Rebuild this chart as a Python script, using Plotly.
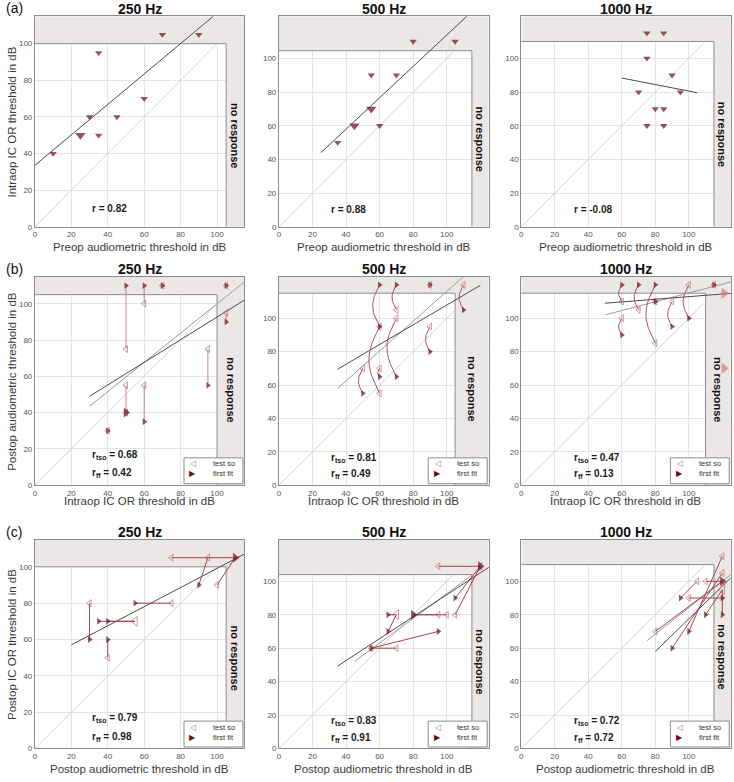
import math
from collections import Counter
import plotly.graph_objects as go

# ------------------------------------------------------------------ data
freq_titles = ["250 Hz", "500 Hz", "1000 Hz"]
row_labels = ["(a)", "(b)", "(c)"]
x_titles = ["Preop audiometric threshold in dB",
            "Intraop IC OR threshold in dB",
            "Postop audiometric threshold in dB"]
y_titles = ["Intraop IC OR threshold in dB",
            "Postop audiometric threshold in dB",
            "Postop IC OR threshold in dB"]
tick_vals = [0, 20, 40, 60, 80, 100]
axis_max = [115, 125, 125]

# "no response" limits (x, y) per panel row
a_band_x = [105, 115, 115]
a_band_y = [100, 104.5, 110]
b_band_x = [100, 105, 110]
b_band_y = [105, 115, 115]
c_band_x = [105, 115, 115]
c_band_y = [100, 104, 110]

# (a) preop audiometric vs intraop IC OR threshold
a250_x = [10, 25, 25, 30, 35, 35, 45, 60, 70, 90]
a250_y = [40, 50, 50, 60, 95, 50, 60, 70, 105, 105]
a500_x = [35, 45, 45, 55, 55, 55, 60, 70, 80, 105]
a500_y = [50, 60, 60, 70, 70, 90, 60, 90, 110, 110]
a1000_x = [75, 85, 75, 90, 70, 95, 80, 85, 75, 85]
a1000_y = [115, 115, 100, 90, 80, 80, 70, 70, 60, 60]
a250_fit_x, a250_fit_y = [0, 98], [33.6, 115]
a500_fit_x, a500_fit_y = [25, 112], [44, 125]
a1000_fit_x, a1000_fit_y = [60, 105], [88.3, 79.6]
a_r = ["0.82", "0.88", "-0.08"]

# (b) intraop IC OR threshold vs postop audiometric (test so -> first fit)
b250_x = [50, 60, 50, 60, 95, 105, 40, 70, 105, 50]
b250_tso = [75, 100, 55, 55, 75, 95, 30, 110, 110, 40]
b250_ff = [110, 110, 40, 35, 55, 90, 30, 110, 110, 40]
b500_x = [60, 60, 70, 70, 50, 60, 90, 110, 90]
b500_tso = [95, 55, 105, 100, 70, 70, 95, 120, 120]
b500_ff = [120, 95, 120, 65, 55, 65, 80, 105, 120]
b1000_x = [60, 60, 70, 80, 80, 90, 100, 115]
b1000_tso = [110, 100, 105, 85, 110, 110, 120, 120]
b1000_ff = [120, 90, 120, 120, 110, 95, 100, 120]
b1000_nr_x = [121, 121]
b1000_nr_y = [115, 70]
b250_fitA_x, b250_fitA_y = [30, 115], [49, 102]
b250_fitB_x, b250_fitB_y = [30, 115], [43.5, 112]
b500_fitA_x, b500_fitA_y = [35, 120], [69.5, 119.7]
b500_fitB_x, b500_fitB_y = [35, 110], [58, 125]
b1000_fitA_x, b1000_fitA_y = [50, 126], [109, 115]
b1000_fitB_x, b1000_fitB_y = [50, 126], [102, 122]
b_rtso = ["0.68", "0.81", "0.47"]
b_rff = ["0.42", "0.49", "0.13"]

# (c) postop audiometric vs postop IC OR threshold (test so -> first fit)
c250_tso_x = [75, 95, 100, 75, 55, 55, 30, 40]
c250_tso_y = [105, 105, 90, 80, 70, 70, 80, 50]
c250_ff_x = [110, 90, 110, 55, 35, 40, 30, 40]
c250_ff_y = [105, 90, 105, 80, 70, 70, 60, 60]
c500_tso_x = [95, 120, 105, 95, 100, 70, 70, 55, 70]
c500_tso_y = [109, 109, 80, 80, 80, 80, 80, 60, 60]
c500_ff_x = [120, 105, 120, 80, 80, 65, 65, 95, 55]
c500_ff_y = [109, 90, 109, 80, 80, 80, 70, 70, 60]
c1000_tso_x = [105, 110, 100, 80, 120, 120, 120, 120]
c1000_tso_y = [100, 100, 90, 70, 115, 105, 95, 95]
c1000_ff_x = [95, 120, 120, 120, 100, 90, 110, 120]
c1000_ff_y = [90, 100, 90, 100, 70, 60, 80, 80]
c250_fitA_x, c250_fitA_y = [20, 115], [57, 107]
c500_fitA_x, c500_fitA_y = [35, 126], [49.3, 109]
c500_fitB_x, c500_fitB_y = [45, 115.5], [52, 104]
c1000_fitA_x, c1000_fitA_y = [80, 125], [58, 102]
c1000_fitB_x, c1000_fitB_y = [75, 125], [64.5, 104]
c_rtso = ["0.79", "0.83", "0.72"]
c_rff = ["0.98", "0.91", "0.72"]

# ------------------------------------------------------------------ style
W, H = 734, 782
COLS = [(33, 243), (277.7, 488), (520.7, 730.7)]
ROWS = [(16.3, 228.3), (278.3, 488.3), (543, 753.3)]
FONT = "Liberation Sans, Arial, Helvetica, sans-serif"
DARK = "#6c0a1c"
OPEN = "#c46872"
SALMON = "#d9787f"
BAND = "#ebe7e7"
EDGE = "#8c8c8c"
FIT_DARK = "#4a4a4a"
FIT_LIGHT = "#9a9a9a"
IDENT = "#d2d2d2"

fig = go.Figure()
shapes, annos = [], []


def axn(n):
    return ("x" if n == 1 else f"x{n}", "y" if n == 1 else f"y{n}")


def add_line(n, xs, ys, color, width=1):
    xa, ya = axn(n)
    fig.add_trace(go.Scatter(x=xs, y=ys, mode="lines", xaxis=xa, yaxis=ya,
                             line=dict(color=color, width=width),
                             showlegend=False, hoverinfo="skip"))


def add_markers(n, xs, ys, symbol, color, base, open_=False):
    xa, ya = axn(n)
    cnt = Counter(zip(xs, ys))
    pts = list(cnt.keys())
    fig.add_trace(go.Scatter(
        x=[p[0] for p in pts], y=[p[1] for p in pts], mode="markers",
        xaxis=xa, yaxis=ya, cliponaxis=False,
        marker=dict(symbol=symbol, color=color,
                    size=[base + 2.5 * (cnt[p] - 1) for p in pts],
                    line=dict(width=1 if open_ else 0, color=color)),
        showlegend=False, hoverinfo="skip"))


def connectors(n, tx, ty, fx, fy, depth, color):
    xs, ys = [], []
    for a, b, c, d in zip(tx, ty, fx, fy):
        if (a, b) == (c, d):
            continue
        if depth > 0 and a == c:
            dd = depth * abs(d - b) + 0.4
            for k in range(25):
                t = k / 24
                xs.append(a - dd * math.sin(math.pi * t))
                ys.append(b + (d - b) * t)
        else:
            xs += [a, c]
            ys += [b, d]
        xs.append(None)
        ys.append(None)
    add_line(n, xs, ys, color, 1)


def frame(n, bx, by, R):
    xa, ya = axn(n)
    common = dict(xref=xa, yref=ya, layer="between")
    shapes.append(dict(type="rect", x0=0, x1=R, y0=by, y1=R, fillcolor=BAND,
                       line=dict(width=0), **common))
    shapes.append(dict(type="rect", x0=bx, x1=R, y0=0, y1=by, fillcolor=BAND,
                       line=dict(width=0), **common))
    shapes.append(dict(type="line", x0=bx, x1=bx, y0=0, y1=by,
                       line=dict(color=EDGE, width=1), **common))
    shapes.append(dict(type="line", x0=0, x1=bx, y0=by, y1=by,
                       line=dict(color=EDGE, width=1), **common))
    m = min(bx, by)
    add_line(n, [0, m], [0, m], IDENT, 1)
    annos.append(dict(x=(bx + R) / 2, y=by / 2, xref=xa, yref=ya,
                      text="<b>no response</b>", textangle=90, showarrow=False,
                      font=dict(size=11, color="#111", family=FONT)))


def legend_box(n):
    xa, ya = axn(n)
    pw = 210.0
    x0, x1 = 1 - 60.5 / pw, 1 - 1.5 / pw
    y0, y1 = 1.5 / pw, 27.5 / pw
    shapes.append(dict(type="rect", xref=f"{xa} domain", yref=f"{ya} domain",
                       x0=x0, x1=x1, y0=y0, y1=y1, fillcolor="white",
                       line=dict(color=EDGE, width=1), layer="above"))
    for i, (sym, col, lab) in enumerate([("◁", OPEN, "test so"), ("▶", DARK, "first fit")]):
        yy = y1 - (6 + 10 * i) / pw
        annos.append(dict(x=x0 + 9 / pw, y=yy, xref=f"{xa} domain", yref=f"{ya} domain",
                          text=sym, showarrow=False, xanchor="center", yanchor="middle",
                          font=dict(size=8, color=col, family="DejaVu Sans")))
        annos.append(dict(x=x0 + 27 / pw, y=yy, xref=f"{xa} domain", yref=f"{ya} domain",
                          text=lab, showarrow=False, xanchor="left", yanchor="middle",
                          font=dict(size=7.5, color="#333", family=FONT)))


def r_texts(n, lines, ys):
    xa, ya = axn(n)
    for t, y in zip(lines, ys):
        annos.append(dict(x=30, y=y, xref=xa, yref=ya, text=t, showarrow=False,
                          xanchor="left", yanchor="middle",
                          font=dict(size=10, color="#1a1a1a", family=FONT)))


# ------------------------------------------------------------------ row a
a_data = [(a250_x, a250_y, a250_fit_x, a250_fit_y),
          (a500_x, a500_y, a500_fit_x, a500_fit_y),
          (a1000_x, a1000_y, a1000_fit_x, a1000_fit_y)]
for j, (xs, ys, fx, fy) in enumerate(a_data):
    n = 1 + j
    frame(n, a_band_x[j], a_band_y[j], axis_max[j])
    add_line(n, fx, fy, FIT_DARK, 1)
    add_markers(n, xs, ys, "triangle-down", DARK, 6.5)
    r_texts(n, [f"<b>r = {a_r[j]}</b>"], [10])

# ------------------------------------------------------------------ row b
b_data = [(b250_x, b250_tso, b250_ff, (b250_fitA_x, b250_fitA_y), (b250_fitB_x, b250_fitB_y), 0.0, "#c48890"),
          (b500_x, b500_tso, b500_ff, (b500_fitA_x, b500_fitA_y), (b500_fitB_x, b500_fitB_y), 0.15, "#a9535e"),
          (b1000_x, b1000_tso, b1000_ff, (b1000_fitA_x, b1000_fitA_y), (b1000_fitB_x, b1000_fitB_y), 0.15, "#a9535e")]
for j, (xs, tso, ff, fa, fb, depth, ccol) in enumerate(b_data):
    n = 4 + j
    frame(n, b_band_x[j], b_band_y[j], axis_max[j])
    add_line(n, fb[0], fb[1], FIT_LIGHT, 1)
    add_line(n, fa[0], fa[1], FIT_DARK, 1)
    connectors(n, xs, tso, xs, ff, depth, ccol)
    add_markers(n, xs, tso, "triangle-left-open", OPEN, 6, open_=True)
    add_markers(n, xs, ff, "triangle-right", DARK, 6)
    if j == 2:
        add_markers(n, b1000_nr_x, b1000_nr_y, "triangle-right", SALMON, 10)
    r_texts(n, [f"<b>r<sub>tso</sub> = {b_rtso[j]}</b>", f"<b>r<sub>ff</sub> = {b_rff[j]}</b>"], [16.5, 6.5])
    legend_box(n)

# ------------------------------------------------------------------ row c
c_data = [(c250_tso_x, c250_tso_y, c250_ff_x, c250_ff_y, [(c250_fitA_x, c250_fitA_y)]),
          (c500_tso_x, c500_tso_y, c500_ff_x, c500_ff_y,
           [(c500_fitB_x, c500_fitB_y), (c500_fitA_x, c500_fitA_y)]),
          (c1000_tso_x, c1000_tso_y, c1000_ff_x, c1000_ff_y,
           [(c1000_fitB_x, c1000_fitB_y), (c1000_fitA_x, c1000_fitA_y)])]
for j, (tx, ty, fx, fy, fits) in enumerate(c_data):
    n = 7 + j
    frame(n, c_band_x[j], c_band_y[j], axis_max[j])
    for k, (lx, ly) in enumerate(fits):
        add_line(n, lx, ly, FIT_DARK if k == len(fits) - 1 else FIT_LIGHT, 1)
    connectors(n, tx, ty, fx, fy, 0.0, "#a3434e")
    add_markers(n, tx, ty, "triangle-left-open", OPEN, 6, open_=True)
    add_markers(n, fx, fy, "triangle-right", DARK, 6)
    r_texts(n, [f"<b>r<sub>tso</sub> = {c_rtso[j]}</b>", f"<b>r<sub>ff</sub> = {c_rff[j]}</b>"], [16.5, 6.5])
    legend_box(n)

# ------------------------------------------------------------------ axes / titles
layout = dict(width=W, height=H, margin=dict(l=0, r=0, t=0, b=0),
              paper_bgcolor="white", plot_bgcolor="white",
              font=dict(family=FONT), showlegend=False)
x_title_y = [249, 504, 774]
for r in range(3):
    for c in range(3):
        n = 3 * r + c + 1
        s = "" if n == 1 else str(n)
        R = axis_max[c]
        (l, rr), (t, b) = COLS[c], ROWS[r]
        base_ax = dict(range=[0, R], tickvals=tick_vals, showgrid=True,
                       gridcolor="#e4e4e4", gridwidth=1, zeroline=False,
                       showline=True, linecolor=EDGE, linewidth=1, mirror=True,
                       ticks="", tickfont=dict(size=8, color="#555", family=FONT),
                       fixedrange=True)
        layout["xaxis" + s] = dict(base_ax, domain=[l / W, rr / W], anchor="y" + s)
        layout["yaxis" + s] = dict(base_ax, domain=[1 - b / H, 1 - t / H], anchor="x" + s)
        annos.append(dict(x=(l + rr) / 2 / W, y=1 - (t - 7.5) / H, xref="paper", yref="paper",
                          text=f"<b>{freq_titles[c]}</b>", showarrow=False,
                          xanchor="center", yanchor="middle",
                          font=dict(size=14, color="#111", family=FONT)))
        annos.append(dict(x=(l + rr) / 2 / W, y=1 - x_title_y[r] / H, xref="paper", yref="paper",
                          text=x_titles[r], showarrow=False, xanchor="center", yanchor="middle",
                          font=dict(size=11.5, color="#3a3a3a", family=FONT)))
    t, b = ROWS[r]
    annos.append(dict(x=10 / W, y=1 - (t + b) / 2 / H, xref="paper", yref="paper",
                      text=y_titles[r], showarrow=False, textangle=-90,
                      xanchor="center", yanchor="middle",
                      font=dict(size=11.5, color="#3a3a3a", family=FONT)))
    annos.append(dict(x=2 / W, y=1 - (t - 8) / H, xref="paper", yref="paper",
                      text=row_labels[r], showarrow=False, xanchor="left", yanchor="middle",
                      font=dict(size=14, color="#111", family=FONT)))

layout["shapes"] = shapes
layout["annotations"] = annos
fig.update_layout(**layout)
fig.write_html("out.html", config={"displayModeBar": False},
               post_script="document.body.style.margin='0px';")
